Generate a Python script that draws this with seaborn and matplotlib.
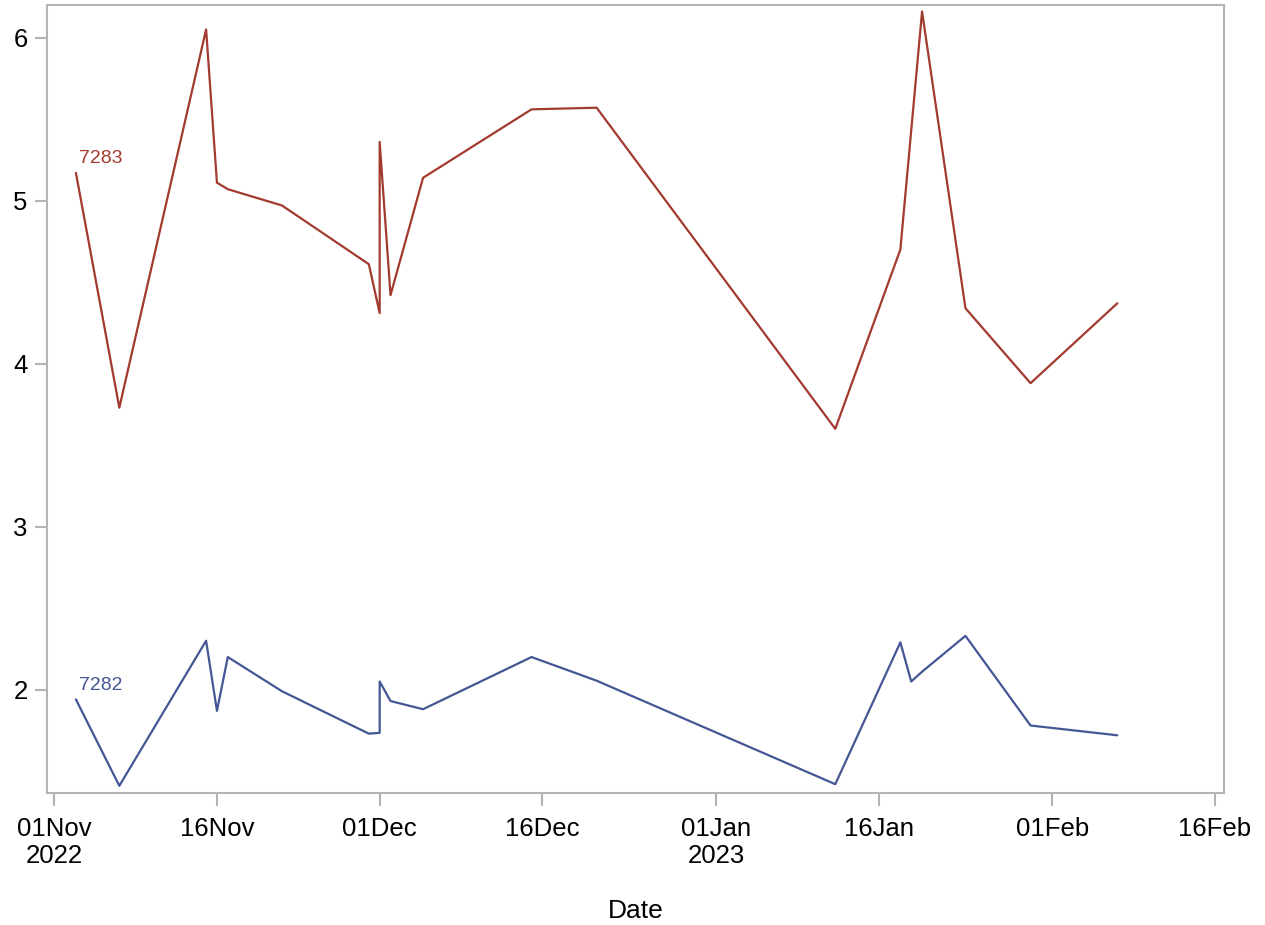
import pandas as pd
import matplotlib.pyplot as plt
import seaborn as sns

# series 7283 (upper, red)
dates_7283 = ['2022-11-03', '2022-11-07', '2022-11-15', '2022-11-16', '2022-11-17',
              '2022-11-22', '2022-11-30', '2022-12-01', '2022-12-01', '2022-12-02',
              '2022-12-05', '2022-12-15', '2022-12-21', '2023-01-12', '2023-01-18',
              '2023-01-20', '2023-01-24', '2023-01-30', '2023-02-07']
values_7283 = [5.17, 3.73, 6.05, 5.11, 5.07, 4.97, 4.61, 4.31, 5.36, 4.42,
               5.14, 5.56, 5.57, 3.60, 4.70, 6.16, 4.34, 3.88, 4.37]

# series 7282 (lower, blue)
dates_7282 = ['2022-11-03', '2022-11-07', '2022-11-15', '2022-11-16', '2022-11-17',
              '2022-11-22', '2022-11-30', '2022-12-01', '2022-12-01', '2022-12-02',
              '2022-12-05', '2022-12-15', '2022-12-21', '2023-01-12', '2023-01-18',
              '2023-01-19', '2023-01-20', '2023-01-24', '2023-01-30', '2023-02-07']
values_7282 = [1.94, 1.41, 2.30, 1.87, 2.20, 1.99, 1.73, 1.735, 2.05, 1.93,
               1.88, 2.20, 2.055, 1.42, 2.29, 2.05, 2.11, 2.33, 1.78, 1.72]

tick_dates = ['2022-11-01', '2022-11-16', '2022-12-01', '2022-12-16',
              '2023-01-01', '2023-01-16', '2023-02-01', '2023-02-16']
tick_labels = ['01Nov\n2022', '16Nov', '01Dec', '16Dec', '01Jan\n2023', '16Jan', '01Feb', '16Feb']

colors = {'7282': '#445694', '7283': '#A23A2E'}

df = pd.concat([
    pd.DataFrame({'Date': pd.to_datetime(dates_7282), 'value': values_7282, 'id': '7282'}),
    pd.DataFrame({'Date': pd.to_datetime(dates_7283), 'value': values_7283, 'id': '7283'}),
], ignore_index=True)

sns.set_style('white')
plt.rcParams['font.family'] = ['Liberation Sans', 'DejaVu Sans']
plt.rcParams['text.color'] = 'black'
plt.rcParams['xtick.color'] = 'black'
plt.rcParams['ytick.color'] = 'black'
plt.rcParams['axes.labelcolor'] = 'black'

fig = plt.figure(figsize=(12.65, 9.25), dpi=100)
ax = fig.add_axes([47 / 1265, 1 - 793 / 925, (1224 - 47) / 1265, (793 - 5) / 925])

sns.lineplot(data=df, x='Date', y='value', hue='id', palette=colors,
             estimator=None, sort=False, linewidth=1.6, legend=False, ax=ax)

# label each series at its first point
for key, grp in df.groupby('id'):
    first = grp.iloc[0]
    ax.annotate(key, (first['Date'], first['value']), xytext=(2, 4),
                textcoords='offset points', color=colors[key], fontsize=14,
                ha='left', va='bottom')

ax.set_xlim(pd.Timestamp('2022-11-01') - pd.Timedelta(hours=16),
            pd.Timestamp('2023-02-16') + pd.Timedelta(hours=20))
ax.set_ylim(1.366, 6.2)
ax.set_xticks(pd.to_datetime(tick_dates))
ax.set_xticklabels(tick_labels)
ax.set_yticks([2, 3, 4, 5, 6])

for s in ax.spines.values():
    s.set_color('#B4B4B4')
    s.set_linewidth(1.5)

ax.tick_params(axis='both', which='major', length=9, width=1.5, color='#B4B4B4',
               labelsize=18.5, labelcolor='black', direction='out', bottom=True, left=True)
ax.tick_params(axis='x', pad=8)
ax.tick_params(axis='y', pad=5)
ax.set_ylabel('')
ax.set_xlabel('Date', fontsize=19, labelpad=22)

fig.savefig('out.png', dpi=100)
